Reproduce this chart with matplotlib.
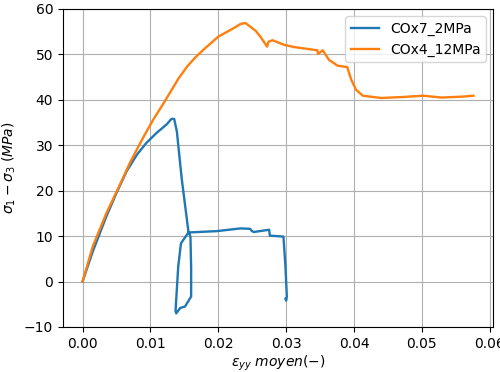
import numpy as np
import matplotlib
matplotlib.use('Agg')
import matplotlib.pyplot as plt

# COx7_2MPa
x_cox7 = [0.0, 0.0015, 0.0035, 0.0050, 0.0065, 0.0080, 0.0094, 0.0109, 0.0124, 0.0131,
          0.0135, 0.0139, 0.0146, 0.0156, 0.0159, 0.0160, 0.0160, 0.0151, 0.0144, 0.0138,
          0.0137, 0.0138, 0.0141, 0.0145, 0.0156, 0.0198, 0.0233, 0.0247, 0.0249,
          0.0252, 0.0275, 0.0276, 0.0296, 0.0299, 0.0301, 0.0300, 0.0299]
y_cox7 = [0.0, 6.6, 14.3, 19.5, 24.3, 27.9, 30.5, 32.7, 34.6, 35.8,
          35.8, 33.0, 22.8, 11.0, 9.9, 3.0, -3.3, -5.5, -5.8, -7.0,
          -6.5, -4.0, 3.3, 8.4, 10.8, 11.1, 11.7, 11.6, 11.2,
          10.9, 11.4, 10.1, 9.9, 3.3, -3.3, -4.2, -3.8]

# COx4_12MPa
x_cox4 = [0.0, 0.0015, 0.0035, 0.0055, 0.0070, 0.0089, 0.0104, 0.0118, 0.0129, 0.0141,
          0.0154, 0.0166, 0.0178, 0.0200, 0.0223, 0.0233, 0.0240, 0.0255, 0.0262,
          0.0272, 0.0274, 0.0280, 0.0297, 0.0312, 0.0346, 0.0347, 0.0354, 0.0363,
          0.0376, 0.0390, 0.0396, 0.0403, 0.0413, 0.0440, 0.0470, 0.0502, 0.0529,
          0.0560, 0.0576]
y_cox4 = [0.0, 7.7, 15.0, 21.3, 26.2, 31.6, 35.6, 38.9, 41.6, 44.6,
          47.3, 49.3, 51.0, 53.9, 55.8, 56.7, 56.9, 55.2, 53.9,
          51.7, 52.8, 53.1, 52.1, 51.6, 50.9, 50.1, 50.9, 48.8,
          47.5, 47.2, 44.4, 42.2, 40.9, 40.4, 40.6, 40.9, 40.5,
          40.7, 40.9]

fig = plt.figure(figsize=(5, 3.72), dpi=100)
ax = fig.add_axes([0.126, 0.121, 0.86, 0.855])
ax.plot(x_cox7, y_cox7, color='#1f77b4', lw=1.7, label='COx7_2MPa')
ax.plot(x_cox4, y_cox4, color='#ff7f0e', lw=1.7, label='COx4_12MPa')
ax.set_ylim(-10, 60)
ax.set_xticks([0.0, 0.01, 0.02, 0.03, 0.04, 0.05, 0.06])
ax.grid(True)
ax.legend(loc='upper right')
ax.set_xlabel(r'$\varepsilon_{yy}\ moyen(-)$', labelpad=2)
ax.set_ylabel(r'$\sigma_1 - \sigma_3$ $(MPa)$')
fig.savefig('out.png')
